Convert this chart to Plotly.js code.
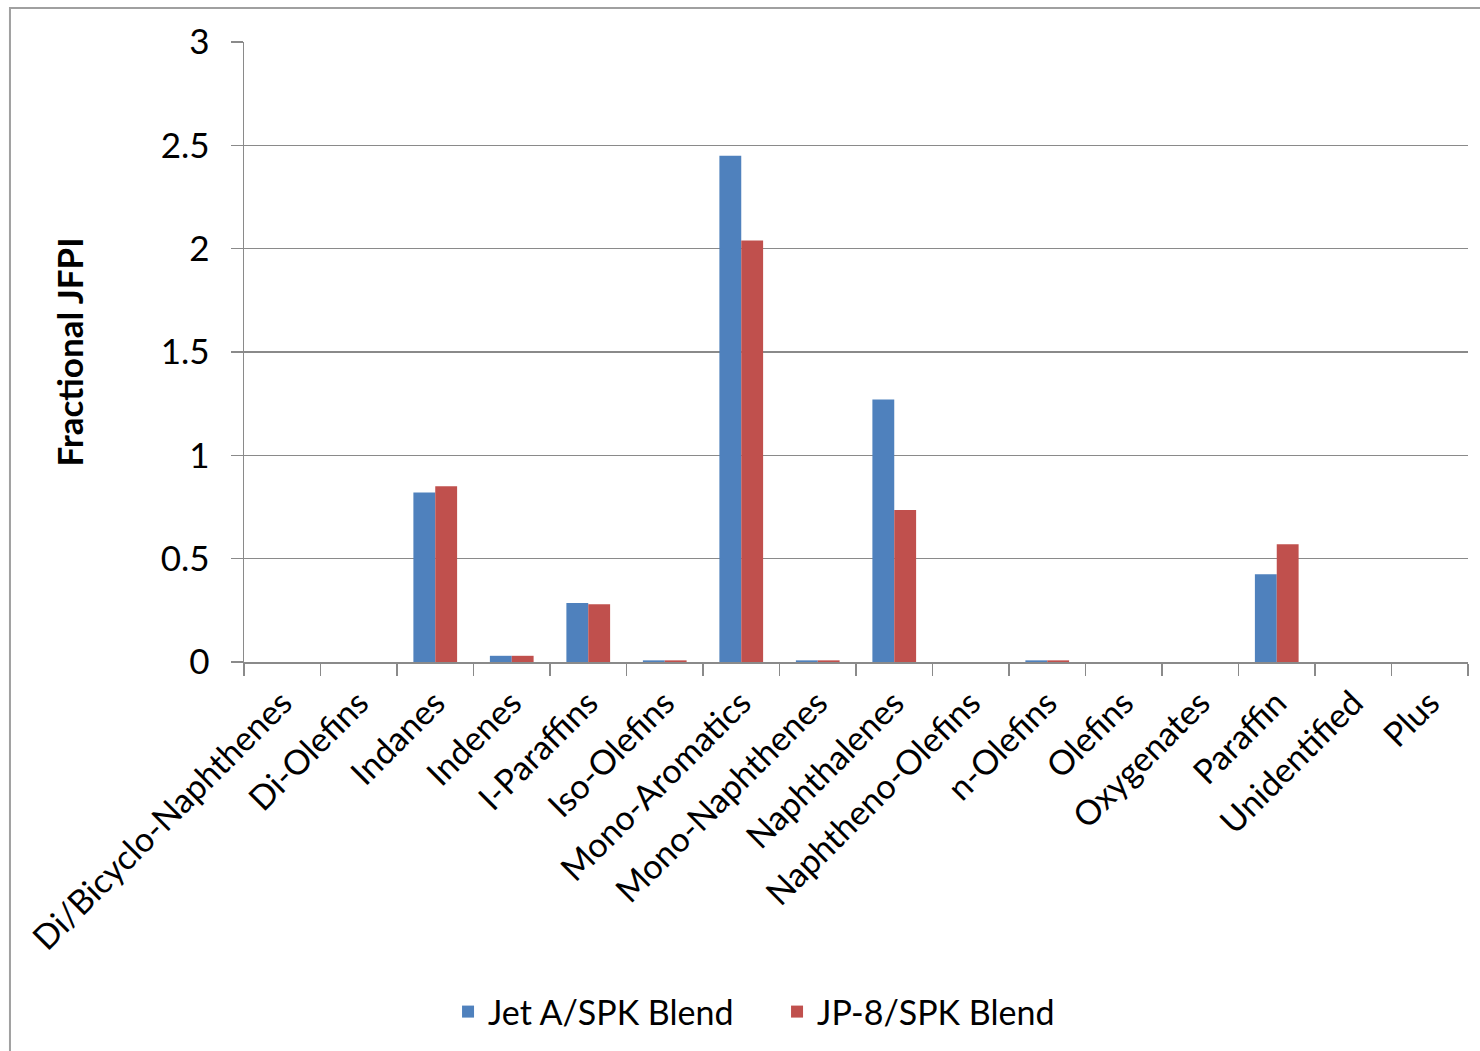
<!DOCTYPE html>
<html>
<head>
<meta charset="utf-8">
<script src="https://cdn.plot.ly/plotly-3.0.1.min.js"></script>
<style>
  html, body { margin: 0; padding: 0; background: #ffffff; }
  #chart { width: 1480px; height: 1051px; }
</style>
</head>
<body>
<div id="chart"></div>
<script>
// Hydrocarbon classes on the category axis
const categories = [
  "Di/Bicyclo-Naphthenes", "Di-Olefins", "Indanes", "Indenes", "I-Paraffins",
  "Iso-Olefins", "Mono-Aromatics", "Mono-Naphthenes", "Naphthalenes",
  "Naphtheno-Olefins", "n-Olefins", "Olefins", "Oxygenates", "Paraffin",
  "Unidentified", "Plus"
];

// Fractional JFPI per class for each blend
const jetASpk = [0, 0, 0.82, 0.03, 0.285, 0.008, 2.45, 0.008, 1.27, 0, 0.008, 0, 0, 0.425, 0, 0];
const jp8Spk  = [0, 0, 0.85, 0.03, 0.28, 0.008, 2.04, 0.008, 0.735, 0, 0.008, 0, 0, 0.57, 0, 0];

const seriesNames = ["Jet A/SPK Blend", "JP-8/SPK Blend"];
const yTicks = [0, 0.5, 1, 1.5, 2, 2.5, 3];

const FONT = "Lato, 'Open Sans', sans-serif";
const GRID = "#8a8a8a";

const traces = [
  { type: "bar", name: seriesNames[0], x: categories, y: jetASpk,
    marker: { color: "#4F81BD" } },
  { type: "bar", name: seriesNames[1], x: categories, y: jp8Spk,
    marker: { color: "#C0504D" } }
];

const layout = {
  width: 1480,
  height: 1051,
  paper_bgcolor: "#ffffff",
  plot_bgcolor: "#ffffff",
  font: { family: FONT, color: "#000000" },
  margin: { l: 244, r: 12, t: 42, b: 389, autoexpand: false },
  barmode: "group",
  bargap: 0.4286,
  bargroupgap: 0,
  showlegend: true,
  legend: {
    orientation: "h",
    x: 0.1667, xanchor: "left",
    y: -0.5645, yanchor: "middle",
    font: { family: FONT, size: 34, color: "#000000" },
    itemwidth: 30,
    entrywidth: 284, entrywidthmode: "pixels",
    traceorder: "normal"
  },
  xaxis: {
    type: "category",
    tickangle: -45,
    tickfont: { family: FONT, size: 34, color: "#000000" },
    showline: true, linecolor: GRID, linewidth: 1.5,
    ticks: "outside", tickson: "boundaries", ticklen: 12, tickcolor: GRID, tickwidth: 1.5,
    ticklabelstandoff: 6,
    showgrid: false, zeroline: false,
    automargin: false
  },
  yaxis: {
    range: [0, 3],
    tickvals: yTicks,
    ticktext: yTicks.map(String),
    tickfont: { family: FONT, size: 35, color: "#000000" },
    showline: true, linecolor: GRID, linewidth: 1.5,
    ticks: "outside", ticklen: 12, tickcolor: GRID, tickwidth: 1.5,
    ticklabelstandoff: 14,
    showgrid: true, gridcolor: GRID, gridwidth: 1.5,
    zeroline: false,
    automargin: false,
    title: { text: "<b>Fractional JFPI</b>", font: { family: FONT, size: 35, color: "#000000" }, standoff: 66 }
  },
  shapes: [
    { type: "rect", xref: "paper", yref: "paper",
      x0: -0.1912, x1: 1.2, y0: -1.0, y1: 1.0548,
      line: { color: "#a0a0a0", width: 2 }, fillcolor: "rgba(0,0,0,0)", layer: "below" }
  ]
};

Plotly.newPlot("chart", traces, layout, { displayModeBar: false, staticPlot: true });
</script>
</body>
</html>
